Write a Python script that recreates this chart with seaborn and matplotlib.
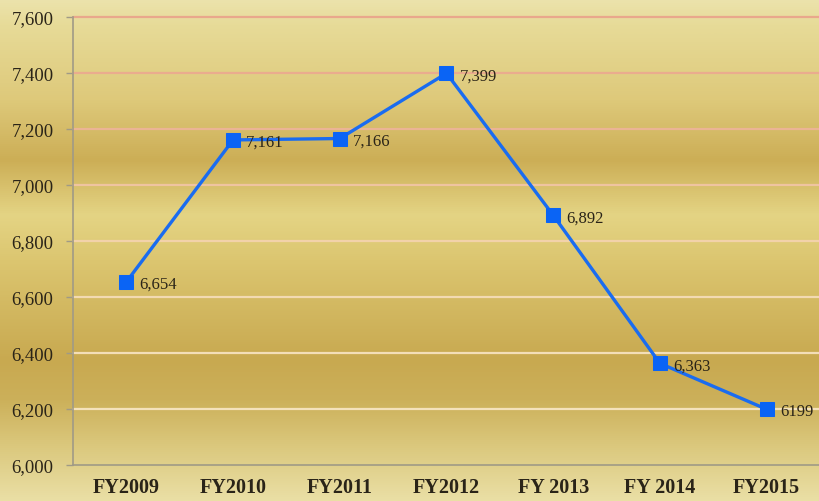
import numpy as np
import pandas as pd
import matplotlib
matplotlib.use("Agg")
import matplotlib.pyplot as plt
from matplotlib.colors import LinearSegmentedColormap
from matplotlib.ticker import FixedLocator
import seaborn as sns

categories = ["FY2009", "FY2010", "FY2011", "FY2012", "FY 2013", "FY 2014", "FY2015"]
values = [6654, 7161, 7166, 7399, 6892, 6363, 6199]
value_labels = ["6,654", "7,161", "7,166", "7,399", "6,892", "6,363", "6199"]
y_ticks = [6000, 6200, 6400, 6600, 6800, 7000, 7200, 7400, 7600]

sns.set_theme(style="white")
plt.rcParams["font.family"] = ["Liberation Serif", "DejaVu Serif"]

fig = plt.figure(figsize=(8.2, 5.02), dpi=100)

# background gold gradient
bg = fig.add_axes([0, 0, 1, 1], zorder=0)
stops = [
    (0.00, (236, 227, 172)),
    (0.05, (231, 219, 152)),
    (0.20, (222, 201, 122)),
    (0.32, (204, 174, 86)),
    (0.43, (228, 212, 132)),
    (0.52, (220, 198, 112)),
    (0.72, (200, 169, 80)),
    (0.80, (204, 176, 90)),
    (0.90, (220, 202, 128)),
    (1.00, (234, 223, 165)),
]
cmap = LinearSegmentedColormap.from_list(
    "gold", [(p, tuple(c / 255 for c in col)) for p, col in stops])
grad = np.linspace(0, 1, 512).reshape(-1, 1)
bg.imshow(grad, aspect="auto", cmap=cmap, extent=[0, 1, 1, 0])
bg.set_axis_off()

ax = fig.add_axes([73 / 820, 36 / 502, 1 - 73 / 820, (466 - 18) / 502], zorder=1)
ax.set_facecolor("none")

df = pd.DataFrame({"cat": categories, "val": values})
pos = np.arange(len(categories))

# gridlines
grid_colors = {7600: "#e9a88c", 7400: "#eaac8e", 7200: "#ebb494", 7000: "#efc4a0",
               6800: "#f2d2aa", 6600: "#f2dab2", 6400: "#f3deb8", 6200: "#f4e2bc"}
for yv, col in grid_colors.items():
    ax.axhline(yv, color=col, lw=1.6, zorder=1, clip_on=False)

sns.lineplot(data=df, x=pos, y="val", ax=ax, color="#1a6cf0", lw=2.4,
             marker="s", markersize=9.5, markerfacecolor="#0a64f5",
             markeredgecolor="#0a64f5", zorder=3, sort=False)

for x, v, lab in zip(pos, values, value_labels):
    ax.annotate(lab, (x, v), xytext=(9.5, -1.5), textcoords="offset points",
                ha="left", va="center", fontsize=12, color="#2a2418", zorder=4)

ax.set_xlim(-0.5, len(categories) - 0.5)
ax.set_ylim(6000, 7600)
ax.set_yticks(y_ticks)
ax.set_yticklabels([f"{t:,}" for t in y_ticks], fontsize=13.5, color="#2a2418")
ax.set_xticks(pos)
ax.set_xticklabels(categories, fontsize=14.5, fontweight="bold", color="#2a2418")
ax.xaxis.set_minor_locator(FixedLocator(np.arange(-0.5, len(categories), 1.0)))
ax.tick_params(axis="x", which="major", length=0, pad=9)
ax.tick_params(axis="x", which="minor", length=5, color="#a09a86", width=1, direction="out")
ax.tick_params(axis="y", length=5, color="#a09a86", width=1, direction="out", pad=9, left=True)
ax.set_xlabel("")
ax.set_ylabel("")
for s in ["top", "right"]:
    ax.spines[s].set_visible(False)
for s in ["left", "bottom"]:
    ax.spines[s].set_color("#a09a86")
    ax.spines[s].set_linewidth(1.2)

fig.savefig("out.png", dpi=100)
